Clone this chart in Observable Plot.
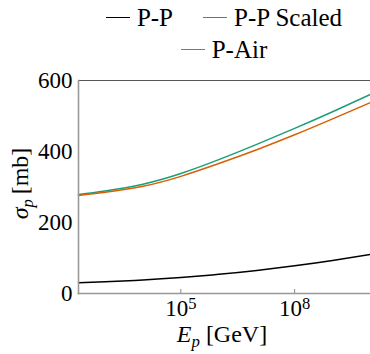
<!DOCTYPE html>
<html>
<head>
<meta charset="utf-8">
<script src="https://cdn.jsdelivr.net/npm/d3@7"></script>
<script src="https://cdn.jsdelivr.net/npm/@observablehq/plot@0.6"></script>
<style>
  html, body { margin: 0; padding: 0; background: #fff; }
  #chart { position: relative; width: 370px; height: 354px; overflow: hidden; font-family: "Liberation Serif", "Times New Roman", Times, "DejaVu Serif", "Noto Serif", "Noto Serif CJK SC", serif; }
  #legend { position: absolute; left: 78px; top: 0; width: 292px; height: 65px; }
  .lrow { position: absolute; left: 0; width: 100%; display: flex; justify-content: center; gap: 30px; }
  .litem { display: flex; align-items: center; font-size: 25px; line-height: 1; color: #000; white-space: nowrap; }
  .lsw { display: inline-block; width: 24px; height: 1.6px; margin-right: 7px; }
  #plot { position: absolute; left: 0; top: 65px; }
</style>
</head>
<body>
<div id="chart">
  <div id="legend"></div>
  <div id="plot"></div>
</div>
<script>
// Proton cross sections vs. proton energy
const energyGeV = [2e2, 1e3, 1e4, 1e5, 1e6, 1e7, 1e8, 1e9, 1e10];
const sigmaPP = [30, 33, 38, 45, 54, 65, 78, 93, 110];
const sigmaPPScaled = [279, 289, 308, 338, 377, 420, 465, 512, 561];
const sigmaPAir = [276, 285, 302, 330, 366, 405, 447, 492, 538];

const seriesNames = ["P-P", "P-P Scaled", "P-Air"];
const seriesColors = ["#000000", "#1b9e77", "#d95f02"];

const yTicks = [0, 200, 400, 600];
const xTicks = [1e5, 1e8];
const xTickLabels = ["10^5", "10^8"];

const FONT = "'Liberation Serif', 'Times New Roman', Times, 'DejaVu Serif', 'Noto Serif', 'Noto Serif CJK SC', serif";

// long-format table for the line mark
const rows = [];
[sigmaPP, sigmaPPScaled, sigmaPAir].forEach((vals, s) =>
  vals.forEach((v, i) => rows.push({E: energyGeV[i], sigma: v, series: seriesNames[s]}))
);

// legend: two entries on the first row, the rest on the second
const legend = d3.select("#legend");
const legendRows = [seriesNames.slice(0, 2), seriesNames.slice(2)];
const rowTops = [5, 37];
legendRows.forEach((names, r) => {
  const row = legend.append("div").attr("class", "lrow").style("top", rowTops[r] + "px");
  names.forEach(name => {
    const item = row.append("div").attr("class", "litem");
    item.append("span").attr("class", "lsw").style("background-color", seriesColors[seriesNames.indexOf(name)]);
    item.append("span").text(name);
  });
});

const W = 370, H = 289, mL = 78, mR = 0, mT = 15, mB = 61;

const plot = Plot.plot({
  width: W,
  height: H,
  marginLeft: mL,
  marginRight: mR,
  marginTop: mT,
  marginBottom: mB,
  style: {fontFamily: FONT, fontSize: "23px", background: "white", color: "black", overflow: "visible"},
  x: {type: "log", domain: [200, 1e10]},
  y: {domain: [0, 600]},
  color: {domain: seriesNames, range: seriesColors},
  marks: [
    Plot.frame({anchor: "top", stroke: "#555", strokeWidth: 1}),
    Plot.line(rows, {x: "E", y: "sigma", z: "series", stroke: "series", strokeWidth: 1.5, curve: "natural"}),
    Plot.frame({anchor: "left", stroke: "#999", strokeWidth: 1.6}),
    Plot.frame({anchor: "bottom", stroke: "#999", strokeWidth: 1.6}),
    Plot.axisY(yTicks, {tickSize: 0, tickPadding: 6, label: null, fontSize: 23}),
    Plot.axisX(xTicks, {
      tickSize: -4, tickPadding: 10, label: null, fontSize: 23, stroke: "#888",
      tickFormat: d => xTickLabels[xTicks.indexOf(d)]
    })
  ]
});

document.getElementById("plot").appendChild(plot);

const svg = d3.select(plot);

// powers of ten as superscripts
svg.selectAll('g[aria-label="x-axis tick label"] text').each(function () {
  const t = d3.select(this);
  const parts = t.text().split("^");
  if (parts.length < 2) return;
  t.text(null);
  t.append("tspan").text(parts[0]);
  t.append("tspan").attr("dy", "-0.42em").attr("font-size", "0.72em").text(parts[1]);
});

// axis titles
const yTitle = svg.append("text")
  .attr("transform", `translate(28,${(mT + H - mB) / 2 - 3}) rotate(-90)`)
  .attr("text-anchor", "middle")
  .style("font-family", FONT)
  .attr("font-size", 24)
  .attr("fill", "black");
yTitle.append("tspan").attr("font-style", "italic").text("σ");
yTitle.append("tspan").attr("font-style", "italic").attr("font-size", "0.7em").attr("dy", "0.3em").text("p");
yTitle.append("tspan").attr("dy", "-0.21em").text("\u2009[mb]");

const xTitle = svg.append("text")
  .attr("transform", `translate(${(mL + W - mR) / 2 - 2},${H - 12})`)
  .attr("text-anchor", "middle")
  .style("font-family", FONT)
  .attr("font-size", 24)
  .attr("fill", "black");
xTitle.append("tspan").attr("font-style", "italic").text("E");
xTitle.append("tspan").attr("font-style", "italic").attr("font-size", "0.7em").attr("dy", "0.3em").text("p");
xTitle.append("tspan").attr("dy", "-0.21em").text(" [GeV]");
</script>
</body>
</html>
